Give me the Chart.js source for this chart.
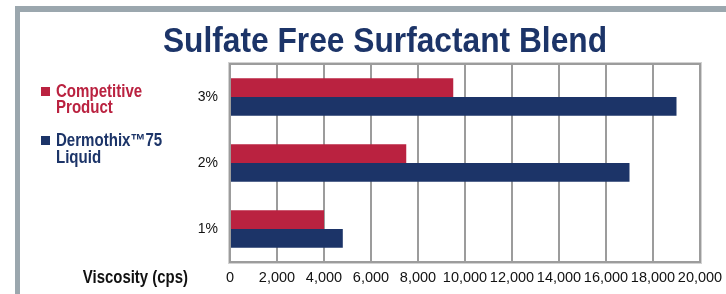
<!DOCTYPE html>
<html>
<head>
<meta charset="utf-8">
<script src="https://cdn.jsdelivr.net/npm/chart.js@4"></script>
<style>
  body { margin: 0; background: #fff; }
  #wrap { position: relative; width: 726px; height: 294px; overflow: hidden; font-family: 'Liberation Sans', Arial, sans-serif; }
  #frame { position: absolute; left: 15px; top: 6px; width: 720px; height: 300px; border-top: 6px solid #9ba7ae; border-left: 5px solid #9ba7ae; }
  #myChart { position: absolute; left: 0; top: 0; }
  #title { position: absolute; left: 85px; width: 600px; top: 22px; text-align: center; font-weight: bold; font-size: 35px; line-height: 35px; color: #1c3468; transform: scaleX(0.906); transform-origin: center; white-space: nowrap; }
  .legend-item { position: absolute; left: 41px; font-weight: bold; font-size: 17.5px; line-height: 16.5px; }
  .legend-item .box { position: absolute; left: 0; width: 9px; height: 9px; top: 4px; }
  .legend-item .txt { margin-left: 15px; transform: scaleX(0.86); transform-origin: left; white-space: nowrap; }
  #xtitle { position: absolute; left: 0; width: 188px; top: 268px; text-align: right; font-weight: bold; font-size: 18px; line-height: 18px; color: #111; transform: scaleX(0.83); transform-origin: right; white-space: nowrap; }
</style>
</head>
<body>
<div id="wrap">
  <div id="frame"></div>
  <canvas id="myChart" width="726" height="294"></canvas>
  <div id="title">Sulfate Free Surfactant Blend</div>
  <div id="legend"></div>
  <div id="xtitle">Viscosity (cps)</div>
</div>
<script>
// data
const concentrations = ['3%', '2%', '1%'];
const seriesNames = [['Competitive', 'Product'], ['Dermothix\u212275', 'Liquid']];
const competitive = [9500, 7500, 4000];
const dermothix = [19000, 17000, 4800];
const xTicks = [0, 2000, 4000, 6000, 8000, 10000, 12000, 14000, 16000, 18000, 20000];

const RED = '#ba2240';
const NAVY = '#1c3468';
const GRID = '#9c9c9c';

// legend on the left, built from the series names
const legendEl = document.getElementById('legend');
[RED, NAVY].forEach(function (color, i) {
    const item = document.createElement('div');
    item.className = 'legend-item';
    item.style.top = (82.5 + i * 49.5) + 'px';
    item.style.color = color;
    item.innerHTML = '<div class="box" style="background:' + color + '"></div>' +
        '<div class="txt">' + seriesNames[i].join('<br>') + '</div>';
    legendEl.appendChild(item);
});

// border round the plot area
const plotBorder = {
    id: 'plotBorder',
    afterDraw(chart) {
        const a = chart.chartArea;
        const ctx = chart.ctx;
        ctx.save();
        ctx.strokeStyle = '#d2d2d2';
        ctx.lineWidth = 1;
        ctx.strokeRect(a.left - 1.5, a.top - 1.5, a.right - a.left + 3, a.bottom - a.top + 3);
        ctx.strokeStyle = GRID;
        ctx.lineWidth = 2;
        ctx.strokeRect(a.left, a.top, a.right - a.left, a.bottom - a.top);
        ctx.restore();
    }
};

const ctx = document.getElementById('myChart').getContext('2d');
const myChart = new Chart(ctx, {
    type: 'bar',
    data: {
        labels: concentrations,
        datasets: [
            { label: seriesNames[0].join(' '), data: competitive, backgroundColor: RED },
            { label: seriesNames[1].join(' '), data: dermothix, backgroundColor: NAVY }
        ]
    },
    options: {
        indexAxis: 'y',
        responsive: false,
        animation: false,
        categoryPercentage: 0.57,
        barPercentage: 1.0,
        layout: { padding: { top: 64, right: 26, left: 0, bottom: 0 } },
        plugins: {
            legend: { display: false },
            tooltip: { enabled: false }
        },
        scales: {
            x: {
                min: 0,
                max: 20000,
                afterBuildTicks(scale) { scale.ticks = xTicks.map(v => ({ value: v })); },
                afterFit(scale) {
                    scale.height = 32;
                    scale.paddingLeft = 0;
                    scale.paddingRight = 0;
                },
                ticks: {
                    callback: v => v.toLocaleString('en-US'),
                    color: '#111',
                    font: { family: 'Liberation Sans', size: 14.5 },
                    padding: 7,
                    maxRotation: 0,
                    autoSkip: false
                },
                grid: { color: GRID, lineWidth: 2, drawTicks: false },
                border: { color: GRID, width: 2 }
            },
            y: {
                afterFit(scale) { scale.width = 230; },
                ticks: {
                    color: '#111',
                    font: { family: 'Liberation Sans', size: 14 },
                    padding: 12
                },
                grid: { display: false, drawTicks: false },
                border: { color: GRID, width: 2 }
            }
        }
    },
    plugins: [plotBorder]
});
</script>
</body>
</html>
